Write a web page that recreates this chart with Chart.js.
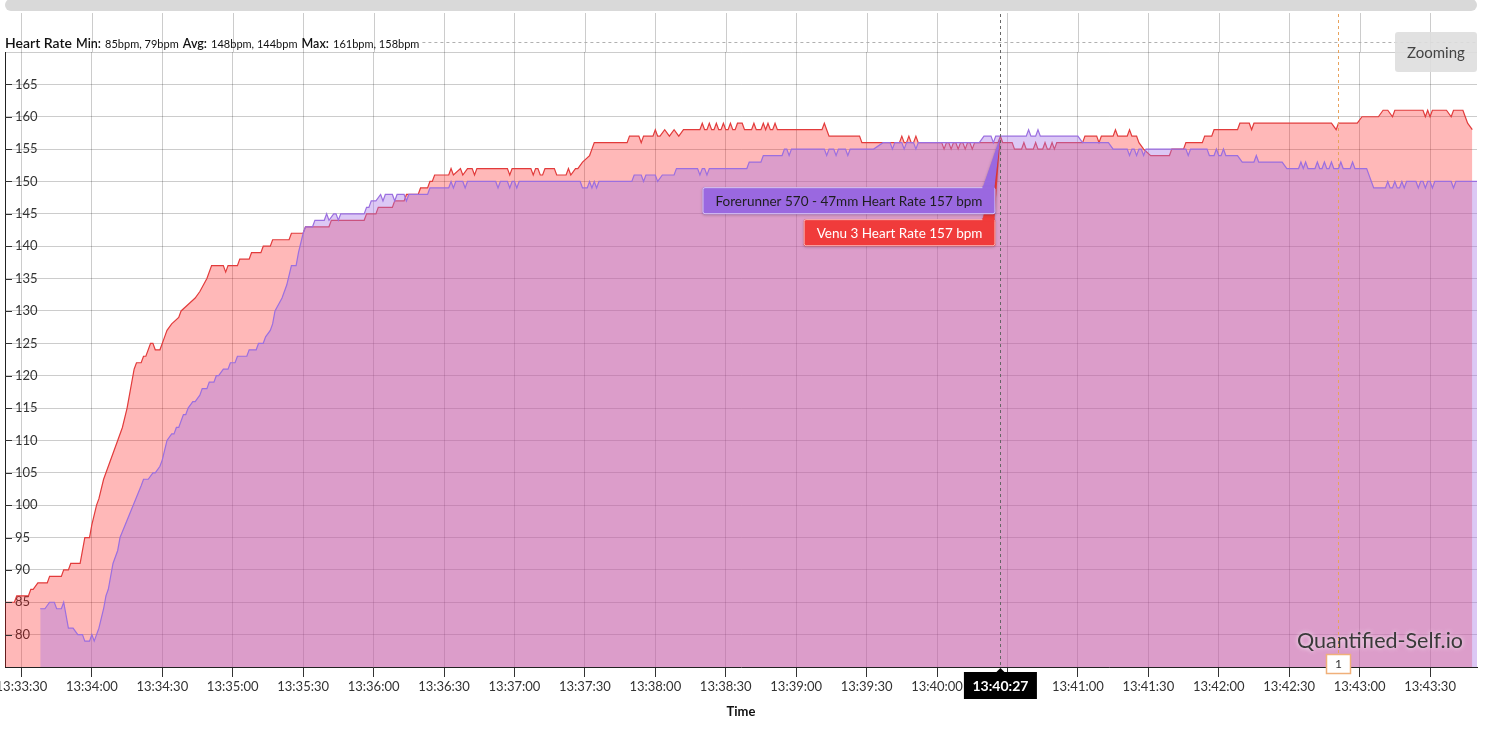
<!DOCTYPE html>
<html lang="en">
<head>
<meta charset="UTF-8">
<meta name="viewport" content="width=device-width, initial-scale=1.0">
<title>Heart Rate - Venu 3 vs Forerunner 570</title>
<script src="https://cdn.jsdelivr.net/npm/chart.js"></script>
<style>
    html, body {
        margin: 0;
        padding: 0;
        background: #fff;
        overflow: hidden;
    }
    body {
        font-family: 'Lato', 'Open Sans', sans-serif;
        color: #222;
    }
    .wrap {
        position: relative;
        width: 1488px;
        height: 730px;
    }
    .scrollbar {
        position: absolute;
        left: 5px;
        top: -1px;
        width: 1472px;
        height: 12px;
        background: #d9d9d9;
        border-radius: 6px;
    }
    .header {
        position: absolute;
        left: 5px;
        top: 32px;
        white-space: nowrap;
        color: #111;
    }
    .header .title { font-size: 14px; font-weight: 600; }
    .header b { font-size: 12.5px; font-weight: 600; }
    .header .v { font-size: 11px; }
    .zoombtn {
        position: absolute;
        left: 1395px;
        top: 32px;
        width: 82px;
        height: 40px;
        line-height: 40px;
        text-align: center;
        background: rgba(222, 222, 222, 0.9);
        border-radius: 3px;
        font-size: 15px;
        color: #444;
    }
    #chartBox {
        position: absolute;
        left: 0;
        top: 0;
        width: 1488px;
        height: 730px;
    }
</style>
</head>
<body>
<div class="wrap">
    <div id="chartBox"><canvas id="hrChart"></canvas></div>
    <div class="scrollbar"></div>
    <div class="header" id="hdr"><span class="title">Heart Rate</span> <b>Min:</b> <span class="v">85bpm, 79bpm</span> <b>Avg:</b> <span class="v">148bpm, 144bpm</span> <b>Max:</b> <span class="v">161bpm, 158bpm</span></div>
    <div class="zoombtn">Zooming</div>
</div>

<script>
    // axis
    const xStart = '13:33:23';
    const xEnd = '13:43:50';
    const timeTicks = ['13:33:30', '13:34:00', '13:34:30', '13:35:00', '13:35:30', '13:36:00', '13:36:30',
        '13:37:00', '13:37:30', '13:38:00', '13:38:30', '13:39:00', '13:39:30', '13:40:00', '13:40:30',
        '13:41:00', '13:41:30', '13:42:00', '13:42:30', '13:43:00', '13:43:30'];
    const yTicks = [80, 85, 90, 95, 100, 105, 110, 115, 120, 125, 130, 135, 140, 145, 150, 155, 160, 165];
    const yMin = 75, yMax = 170;

    // hover + lap marker
    const cursorTime = '13:40:27';
    const lapTime = '13:42:51';
    const lapLabel = '1';

    // Venu 3 [time, bpm]
    const venu3 = [
        ['13:33:23',85],['13:33:27',85],['13:33:28',86],['13:33:33',86],['13:33:34',87],['13:33:35',87],
        ['13:33:37',88],['13:33:41',88],['13:33:42',89],['13:33:47',89],['13:33:48',90],['13:33:50',90],
        ['13:33:51',91],['13:33:55',91],['13:33:57',95],['13:33:59',95],['13:34:00',97],['13:34:02',100],
        ['13:34:03',101],['13:34:05',104],['13:34:11',110],['13:34:13',112],['13:34:15',115],['13:34:16',117],
        ['13:34:18',121],['13:34:19',122],['13:34:21',122],['13:34:22',123],['13:34:23',123],['13:34:25',125],
        ['13:34:26',125],['13:34:27',124],['13:34:29',124],['13:34:31',126],['13:34:32',127],['13:34:34',128],
        ['13:34:37',129],['13:34:38',130],['13:34:41',131],['13:34:44',132],['13:34:46',133],['13:34:49',135],
        ['13:34:51',137],['13:34:56',137],['13:34:57',136],['13:34:58',137],['13:35:02',137],['13:35:03',138],
        ['13:35:07',138],['13:35:08',139],['13:35:12',139],['13:35:13',140],['13:35:16',140],['13:35:17',141],
        ['13:35:24',141],['13:35:25',142],['13:35:30',142],['13:35:31',143],['13:35:41',143],['13:35:42',144],
        ['13:35:56',144],['13:35:57',145],['13:36:01',145],['13:36:02',146],['13:36:08',146],['13:36:09',147],
        ['13:36:13',147],['13:36:14',148],['13:36:19',148],['13:36:20',149],['13:36:23',149],['13:36:24',150],
        ['13:36:25',150],['13:36:26',151],['13:36:32',151],['13:36:33',152],['13:36:34',151],['13:36:37',152],
        ['13:36:38',151],['13:36:40',152],['13:36:42',152],['13:36:43',151],['13:36:44',152],['13:36:57',152],
        ['13:36:58',151],['13:36:59',152],['13:37:07',152],['13:37:08',151],['13:37:09',152],['13:37:10',152],
        ['13:37:11',151],['13:37:12',151],['13:37:13',152],['13:37:17',152],['13:37:18',151],['13:37:22',151],
        ['13:37:23',152],['13:37:24',151],['13:37:26',152],['13:37:27',152],['13:37:29',153],['13:37:32',154],
        ['13:37:33',155],['13:37:34',156],['13:37:48',156],['13:37:49',157],['13:37:53',157],['13:37:54',156],
        ['13:37:55',157],['13:37:59',157],['13:38:00',158],['13:38:01',157],['13:38:02',157],['13:38:04',158],
        ['13:38:06',157],['13:38:08',158],['13:38:10',157],['13:38:12',158],['13:38:19',158],['13:38:20',159],
        ['13:38:21',158],['13:38:22',158],['13:38:23',159],['13:38:24',158],['13:38:25',158],['13:38:26',159],
        ['13:38:27',158],['13:38:28',158],['13:38:29',159],['13:38:30',158],['13:38:31',158],['13:38:32',159],
        ['13:38:33',158],['13:38:34',158],['13:38:35',159],['13:38:37',159],['13:38:38',158],['13:38:41',158],
        ['13:38:42',159],['13:38:43',158],['13:38:45',158],['13:38:46',159],['13:38:47',158],['13:38:48',159],
        ['13:38:49',158],['13:38:50',158],['13:38:51',159],['13:38:52',158],['13:39:11',158],['13:39:12',159],
        ['13:39:13',158],['13:39:14',157],['13:39:27',157],['13:39:28',156],['13:39:44',156],['13:39:45',157],
        ['13:39:46',156],['13:39:47',156],['13:39:48',157],['13:39:49',156],['13:39:50',156],['13:39:51',157],
        ['13:39:52',156],['13:40:02',156],['13:40:03',155],['13:40:04',156],['13:40:05',156],['13:40:06',155],
        ['13:40:07',156],['13:40:08',156],['13:40:09',155],['13:40:10',156],['13:40:11',156],['13:40:12',155],
        ['13:40:13',156],['13:40:14',156],['13:40:15',155],['13:40:16',156],['13:40:26',156],['13:40:27',157],
        ['13:40:28',156],['13:40:32',156],['13:40:33',155],['13:40:36',155],['13:40:37',156],['13:40:38',155],
        ['13:40:41',155],['13:40:42',156],['13:40:43',155],['13:40:45',155],['13:40:46',156],['13:40:47',155],
        ['13:40:48',155],['13:40:49',156],['13:40:50',155],['13:40:51',156],['13:41:02',156],['13:41:03',157],
        ['13:41:08',157],['13:41:09',156],['13:41:10',157],['13:41:15',157],['13:41:16',158],['13:41:17',157],
        ['13:41:21',157],['13:41:22',158],['13:41:23',157],['13:41:25',157],['13:41:26',156],['13:41:28',155],
        ['13:41:31',154],['13:41:39',154],['13:41:40',155],['13:41:45',155],['13:41:46',156],['13:41:53',156],
        ['13:41:54',157],['13:41:57',157],['13:41:58',158],['13:42:08',158],['13:42:09',159],['13:42:13',159],
        ['13:42:14',158],['13:42:15',159],['13:42:48',159],['13:42:50',158],['13:42:51',159],['13:42:59',159],
        ['13:43:01',160],['13:43:08',160],['13:43:10',161],['13:43:12',161],['13:43:14',160],['13:43:15',161],
        ['13:43:27',161],['13:43:28',160],['13:43:29',161],['13:43:30',160],['13:43:31',161],['13:43:37',161],
        ['13:43:39',160],['13:43:40',161],['13:43:44',161],['13:43:45',160],['13:43:46',159],['13:43:48',158]
    ];

    // Forerunner 570 - 47mm [time, bpm]
    const forerunner570 = [
        ['13:33:38',84],['13:33:40',84],['13:33:42',85],['13:33:44',85],['13:33:45',84],['13:33:47',84],
        ['13:33:48',85],['13:33:50',81],['13:33:52',81],['13:33:54',80],['13:33:56',80],['13:33:57',79],
        ['13:33:59',79],['13:34:00',80],['13:34:01',79],['13:34:03',81],['13:34:05',84],['13:34:06',86],
        ['13:34:07',87],['13:34:09',91],['13:34:11',93],['13:34:12',95],['13:34:21',103],['13:34:22',104],
        ['13:34:24',104],['13:34:26',105],['13:34:27',105],['13:34:29',106],['13:34:30',107],['13:34:32',110],
        ['13:34:34',111],['13:34:35',111],['13:34:36',112],['13:34:37',112],['13:34:39',114],['13:34:40',114],
        ['13:34:41',115],['13:34:43',116],['13:34:44',116],['13:34:46',117],['13:34:47',118],['13:34:49',118],
        ['13:34:50',119],['13:34:52',119],['13:34:53',120],['13:34:54',120],['13:34:56',121],['13:34:58',121],
        ['13:34:59',122],['13:35:01',122],['13:35:02',123],['13:35:06',123],['13:35:07',124],['13:35:10',124],
        ['13:35:11',125],['13:35:13',125],['13:35:14',126],['13:35:16',127],['13:35:17',128],['13:35:18',130],
        ['13:35:21',132],['13:35:23',134],['13:35:25',137],['13:35:27',137],['13:35:28',139],['13:35:30',142],
        ['13:35:31',143],['13:35:34',143],['13:35:35',144],['13:35:39',144],['13:35:40',145],['13:35:41',144],
        ['13:35:43',145],['13:35:44',145],['13:35:45',144],['13:35:46',145],['13:35:56',145],['13:35:57',146],
        ['13:35:58',146],['13:35:59',147],['13:36:01',147],['13:36:03',148],['13:36:04',147],['13:36:05',148],
        ['13:36:08',148],['13:36:09',147],['13:36:10',148],['13:36:13',148],['13:36:14',147],['13:36:15',148],
        ['13:36:23',148],['13:36:24',149],['13:36:32',149],['13:36:33',150],['13:36:34',149],['13:36:35',150],
        ['13:36:38',150],['13:36:39',149],['13:36:40',150],['13:36:52',150],['13:36:53',149],['13:36:54',150],
        ['13:36:57',150],['13:36:58',149],['13:36:59',150],['13:37:00',150],['13:37:01',149],['13:37:02',150],
        ['13:37:28',150],['13:37:29',149],['13:37:31',149],['13:37:32',150],['13:37:33',149],['13:37:34',150],
        ['13:37:35',149],['13:37:36',150],['13:37:50',150],['13:37:51',151],['13:37:54',151],['13:37:55',150],
        ['13:37:56',151],['13:38:00',151],['13:38:01',150],['13:38:03',151],['13:38:08',151],['13:38:09',152],
        ['13:38:18',152],['13:38:19',151],['13:38:20',152],['13:38:21',152],['13:38:22',151],['13:38:23',152],
        ['13:38:39',152],['13:38:40',153],['13:38:45',153],['13:38:46',154],['13:38:54',154],['13:38:55',155],
        ['13:38:56',155],['13:38:57',154],['13:38:58',155],['13:39:12',155],['13:39:13',154],['13:39:14',155],
        ['13:39:16',155],['13:39:17',154],['13:39:18',155],['13:39:21',155],['13:39:22',154],['13:39:23',155],
        ['13:39:33',155],['13:39:37',156],['13:39:40',156],['13:39:41',155],['13:39:42',156],['13:39:45',156],
        ['13:39:46',155],['13:39:47',156],['13:39:50',156],['13:39:51',155],['13:39:52',156],['13:40:18',156],
        ['13:40:20',157],['13:40:23',157],['13:40:24',156],['13:40:25',157],['13:40:27',157],['13:40:38',157],
        ['13:40:39',158],['13:40:40',157],['13:40:42',157],['13:40:43',158],['13:40:44',157],['13:41:00',157],
        ['13:41:02',156],['13:41:13',156],['13:41:15',155],['13:41:21',155],['13:41:22',154],['13:41:23',155],
        ['13:41:24',155],['13:41:25',154],['13:41:26',155],['13:41:27',155],['13:41:28',154],['13:41:29',155],
        ['13:41:46',155],['13:41:47',154],['13:41:48',155],['13:41:55',155],['13:41:56',154],['13:41:58',154],
        ['13:41:59',155],['13:42:00',154],['13:42:01',154],['13:42:02',155],['13:42:03',154],['13:42:08',154],
        ['13:42:10',153],['13:42:15',153],['13:42:16',154],['13:42:17',153],['13:42:27',153],['13:42:29',152],
        ['13:42:34',152],['13:42:35',153],['13:42:36',152],['13:42:37',153],['13:42:38',152],['13:42:41',152],
        ['13:42:42',153],['13:42:43',152],['13:42:44',152],['13:42:45',153],['13:42:46',152],['13:42:47',152],
        ['13:42:48',153],['13:42:49',152],['13:42:51',152],['13:42:52',153],['13:42:53',152],['13:42:56',152],
        ['13:42:57',153],['13:42:58',152],['13:43:03',152],['13:43:06',149],['13:43:11',149],['13:43:12',150],
        ['13:43:13',149],['13:43:14',149],['13:43:15',150],['13:43:16',149],['13:43:17',149],['13:43:18',150],
        ['13:43:19',149],['13:43:20',150],['13:43:24',150],['13:43:25',149],['13:43:26',150],['13:43:27',150],
        ['13:43:28',149],['13:43:29',150],['13:43:30',150],['13:43:31',149],['13:43:32',150],['13:43:39',150],
        ['13:43:40',149],['13:43:41',150],['13:43:50',150]
    ];

    const BASE = 13 * 3600 + 33 * 60 + 30;
    function toSec(s) {
        const p = s.split(':').map(Number);
        return p[0] * 3600 + p[1] * 60 + p[2] - BASE;
    }
    function fmt(sec) {
        const t = Math.round(sec + BASE);
        const pad = n => String(n).padStart(2, '0');
        return pad(Math.floor(t / 3600)) + ':' + pad(Math.floor(t / 60) % 60) + ':' + pad(t % 60);
    }
    // last reading at or before the given time
    function valueAt(series, time) {
        const target = toSec(time);
        let val = null;
        series.forEach(p => { if (toSec(p[0]) <= target) val = p[1]; });
        return val;
    }

    const FONT = "'Lato', 'Open Sans', sans-serif";
    const gridColor = 'rgba(0,0,0,0.2)';

    function roundRect(ctx, x, y, w, h, r) {
        ctx.beginPath();
        ctx.moveTo(x + r, y);
        ctx.lineTo(x + w - r, y);
        ctx.quadraticCurveTo(x + w, y, x + w, y + r);
        ctx.lineTo(x + w, y + h - r);
        ctx.quadraticCurveTo(x + w, y + h, x + w - r, y + h);
        ctx.lineTo(x + r, y + h);
        ctx.quadraticCurveTo(x, y + h, x, y + h - r);
        ctx.lineTo(x, y + r);
        ctx.quadraticCurveTo(x, y, x + r, y);
        ctx.closePath();
    }

    // extra drawing: grid above the plot, markers, hover tooltips, watermark
    const overlay = {
        id: 'overlay',
        afterDraw(chart) {
            const {ctx, chartArea, scales: {x, y}} = chart;
            ctx.save();

            // vertical grid lines continue up to the header
            ctx.strokeStyle = gridColor;
            ctx.lineWidth = 1;
            x.ticks.forEach(t => {
                const px = Math.round(x.getPixelForValue(t.value)) + 0.5;
                ctx.beginPath();
                ctx.moveTo(px, 13);
                ctx.lineTo(px, chartArea.top);
                ctx.stroke();
            });

            // dashed line after the header text
            const hdr = document.getElementById('hdr').getBoundingClientRect();
            ctx.strokeStyle = '#b0b0b0';
            ctx.setLineDash([3, 3]);
            ctx.beginPath();
            ctx.moveTo(hdr.right + 3, 42.5);
            ctx.lineTo(chartArea.right, 42.5);
            ctx.stroke();
            ctx.setLineDash([]);

            // small inward ticks on the y axis
            ctx.strokeStyle = '#333';
            yTicks.forEach(v => {
                const py = Math.round(y.getPixelForValue(v)) + 0.5;
                ctx.beginPath();
                ctx.moveTo(chartArea.left, py);
                ctx.lineTo(chartArea.left + 7, py);
                ctx.stroke();
            });

            // watermark
            ctx.font = '21.5px ' + FONT;
            ctx.textAlign = 'right';
            ctx.textBaseline = 'alphabetic';
            ctx.shadowColor = 'rgba(255,255,255,0.9)';
            ctx.shadowBlur = 4;
            ctx.fillStyle = '#3a3a3a';
            ctx.fillText('Quantified-Self.io', chartArea.right - 14, chartArea.bottom - 19);
            ctx.shadowBlur = 0;

            // lap marker
            const lx = Math.round(x.getPixelForValue(toSec(lapTime))) + 0.5;
            ctx.strokeStyle = '#e8a35c';
            ctx.setLineDash([3, 3]);
            ctx.beginPath();
            ctx.moveTo(lx, 14);
            ctx.lineTo(lx, chartArea.bottom - 12);
            ctx.stroke();
            ctx.setLineDash([]);
            ctx.fillStyle = '#fff';
            ctx.strokeStyle = '#f0b07a';
            ctx.lineWidth = 1.5;
            ctx.fillRect(lx - 12, chartArea.bottom - 12.5, 24, 19);
            ctx.strokeRect(lx - 12, chartArea.bottom - 12.5, 24, 19);
            ctx.fillStyle = '#333';
            ctx.font = '12px ' + FONT;
            ctx.textAlign = 'center';
            ctx.textBaseline = 'middle';
            ctx.fillText(lapLabel, lx, chartArea.bottom - 2.5);

            // hover crosshair
            const cx = x.getPixelForValue(toSec(cursorTime));
            const cxr = Math.round(cx) + 0.5;
            ctx.strokeStyle = '#666';
            ctx.lineWidth = 1;
            ctx.setLineDash([3, 3]);
            ctx.beginPath();
            ctx.moveTo(cxr, 14);
            ctx.lineTo(cxr, chartArea.bottom);
            ctx.stroke();
            ctx.setLineDash([]);

            // hover tooltips
            const frVal = valueAt(forerunner570, cursorTime);
            const vnVal = valueAt(venu3, cursorTime);
            const py = y.getPixelForValue(Math.max(frVal, vnVal));
            const right = cx - 5;
            ctx.font = '13.5px ' + FONT;
            const boxes = [
                {text: 'Venu 3 Heart Rate ' + vnVal + ' bpm', top: py + 83, fill: '#f03b3b', color: '#fff'},
                {text: 'Forerunner 570 - 47mm Heart Rate ' + frVal + ' bpm', top: py + 51, fill: '#9a68e0', color: '#1e1e1e'}
            ];
            boxes.forEach(b => {
                const w = ctx.measureText(b.text).width + 26;
                const h = 27;
                const left = right - w;
                ctx.shadowColor = 'rgba(0,0,0,0.25)';
                ctx.shadowBlur = 3;
                ctx.shadowOffsetY = 1;
                ctx.fillStyle = b.fill;
                ctx.beginPath();
                ctx.moveTo(right - 13, b.top + 1);
                ctx.lineTo(cx, py);
                ctx.lineTo(right - 1, b.top + 1);
                ctx.closePath();
                ctx.fill();
                roundRect(ctx, left, b.top, w, h, 2);
                ctx.fill();
                ctx.shadowBlur = 0;
                ctx.shadowOffsetY = 0;
                ctx.strokeStyle = 'rgba(255,255,255,0.6)';
                ctx.lineWidth = 1;
                roundRect(ctx, left + 0.5, b.top + 0.5, w - 1, h - 1, 2);
                ctx.stroke();
                ctx.fillStyle = b.fill;
                ctx.fillRect(right - 13, b.top - 1, 12, 3);
                ctx.fillStyle = b.color;
                ctx.textAlign = 'center';
                ctx.textBaseline = 'middle';
                ctx.fillText(b.text, left + w / 2, b.top + h / 2 + 0.5);
            });

            // time label under the crosshair
            const lw = 73, lh = 27, lt = chartArea.bottom + 5;
            ctx.fillStyle = '#000';
            ctx.fillRect(cx - lw / 2, lt, lw, lh);
            ctx.beginPath();
            ctx.moveTo(cx - 4, lt);
            ctx.lineTo(cx, lt - 4);
            ctx.lineTo(cx + 4, lt);
            ctx.closePath();
            ctx.fill();
            ctx.fillStyle = '#fff';
            ctx.font = 'bold 14px ' + FONT;
            ctx.textAlign = 'center';
            ctx.textBaseline = 'middle';
            ctx.fillText(cursorTime, cx, lt + lh / 2 + 0.5);

            ctx.restore();
        }
    };

    new Chart(document.getElementById('hrChart'), {
        type: 'line',
        data: {
            datasets: [
                {
                    label: 'Forerunner 570 - 47mm Heart Rate',
                    data: forerunner570.map(p => ({x: toSec(p[0]), y: p[1]})),
                    borderColor: '#9b6fe0',
                    backgroundColor: 'rgba(168,117,230,0.4)',
                    borderWidth: 1.2,
                    fill: 'start',
                    pointRadius: 0,
                    tension: 0
                },
                {
                    label: 'Venu 3 Heart Rate',
                    data: venu3.map(p => ({x: toSec(p[0]), y: p[1]})),
                    borderColor: '#e23b3b',
                    backgroundColor: 'rgba(255,20,20,0.3)',
                    borderWidth: 1.2,
                    fill: 'start',
                    pointRadius: 0,
                    tension: 0
                }
            ]
        },
        options: {
            responsive: true,
            maintainAspectRatio: false,
            animation: false,
            events: [],
            layout: {
                padding: {left: 5, right: 11, top: 52, bottom: 0}
            },
            plugins: {
                legend: {display: false},
                tooltip: {enabled: false}
            },
            scales: {
                x: {
                    type: 'linear',
                    min: toSec(xStart),
                    max: toSec(xEnd),
                    afterBuildTicks: scale => {
                        scale.ticks = timeTicks.map(t => ({value: toSec(t)}));
                    },
                    afterFit: scale => {
                        scale.height = 63;
                        scale.paddingLeft = 0;
                        scale.paddingRight = 0;
                    },
                    ticks: {
                        autoSkip: false,
                        maxRotation: 0,
                        padding: 2,
                        color: '#333',
                        font: {family: FONT, size: 13},
                        callback: v => fmt(v)
                    },
                    grid: {
                        color: gridColor,
                        tickColor: '#333',
                        tickLength: 10
                    },
                    border: {color: '#222', width: 1},
                    title: {
                        display: true,
                        text: 'Time',
                        color: '#111',
                        font: {family: FONT, size: 13, weight: 'bold'},
                        padding: {top: 0, bottom: 10}
                    }
                },
                y: {
                    min: yMin,
                    max: yMax,
                    afterBuildTicks: scale => {
                        scale.ticks = [yMin, ...yTicks, yMax].map(v => ({value: v}));
                    },
                    afterFit: scale => {
                        scale.width = 0;
                        scale.paddingTop = 0;
                        scale.paddingBottom = 0;
                    },
                    ticks: {
                        mirror: true,
                        padding: 10,
                        color: '#333',
                        font: {family: FONT, size: 13},
                        callback: v => yTicks.includes(v) ? String(v) : ''
                    },
                    grid: {
                        color: gridColor,
                        drawTicks: false
                    },
                    border: {color: '#222', width: 1}
                }
            }
        },
        plugins: [overlay]
    });
</script>
</body>
</html>
